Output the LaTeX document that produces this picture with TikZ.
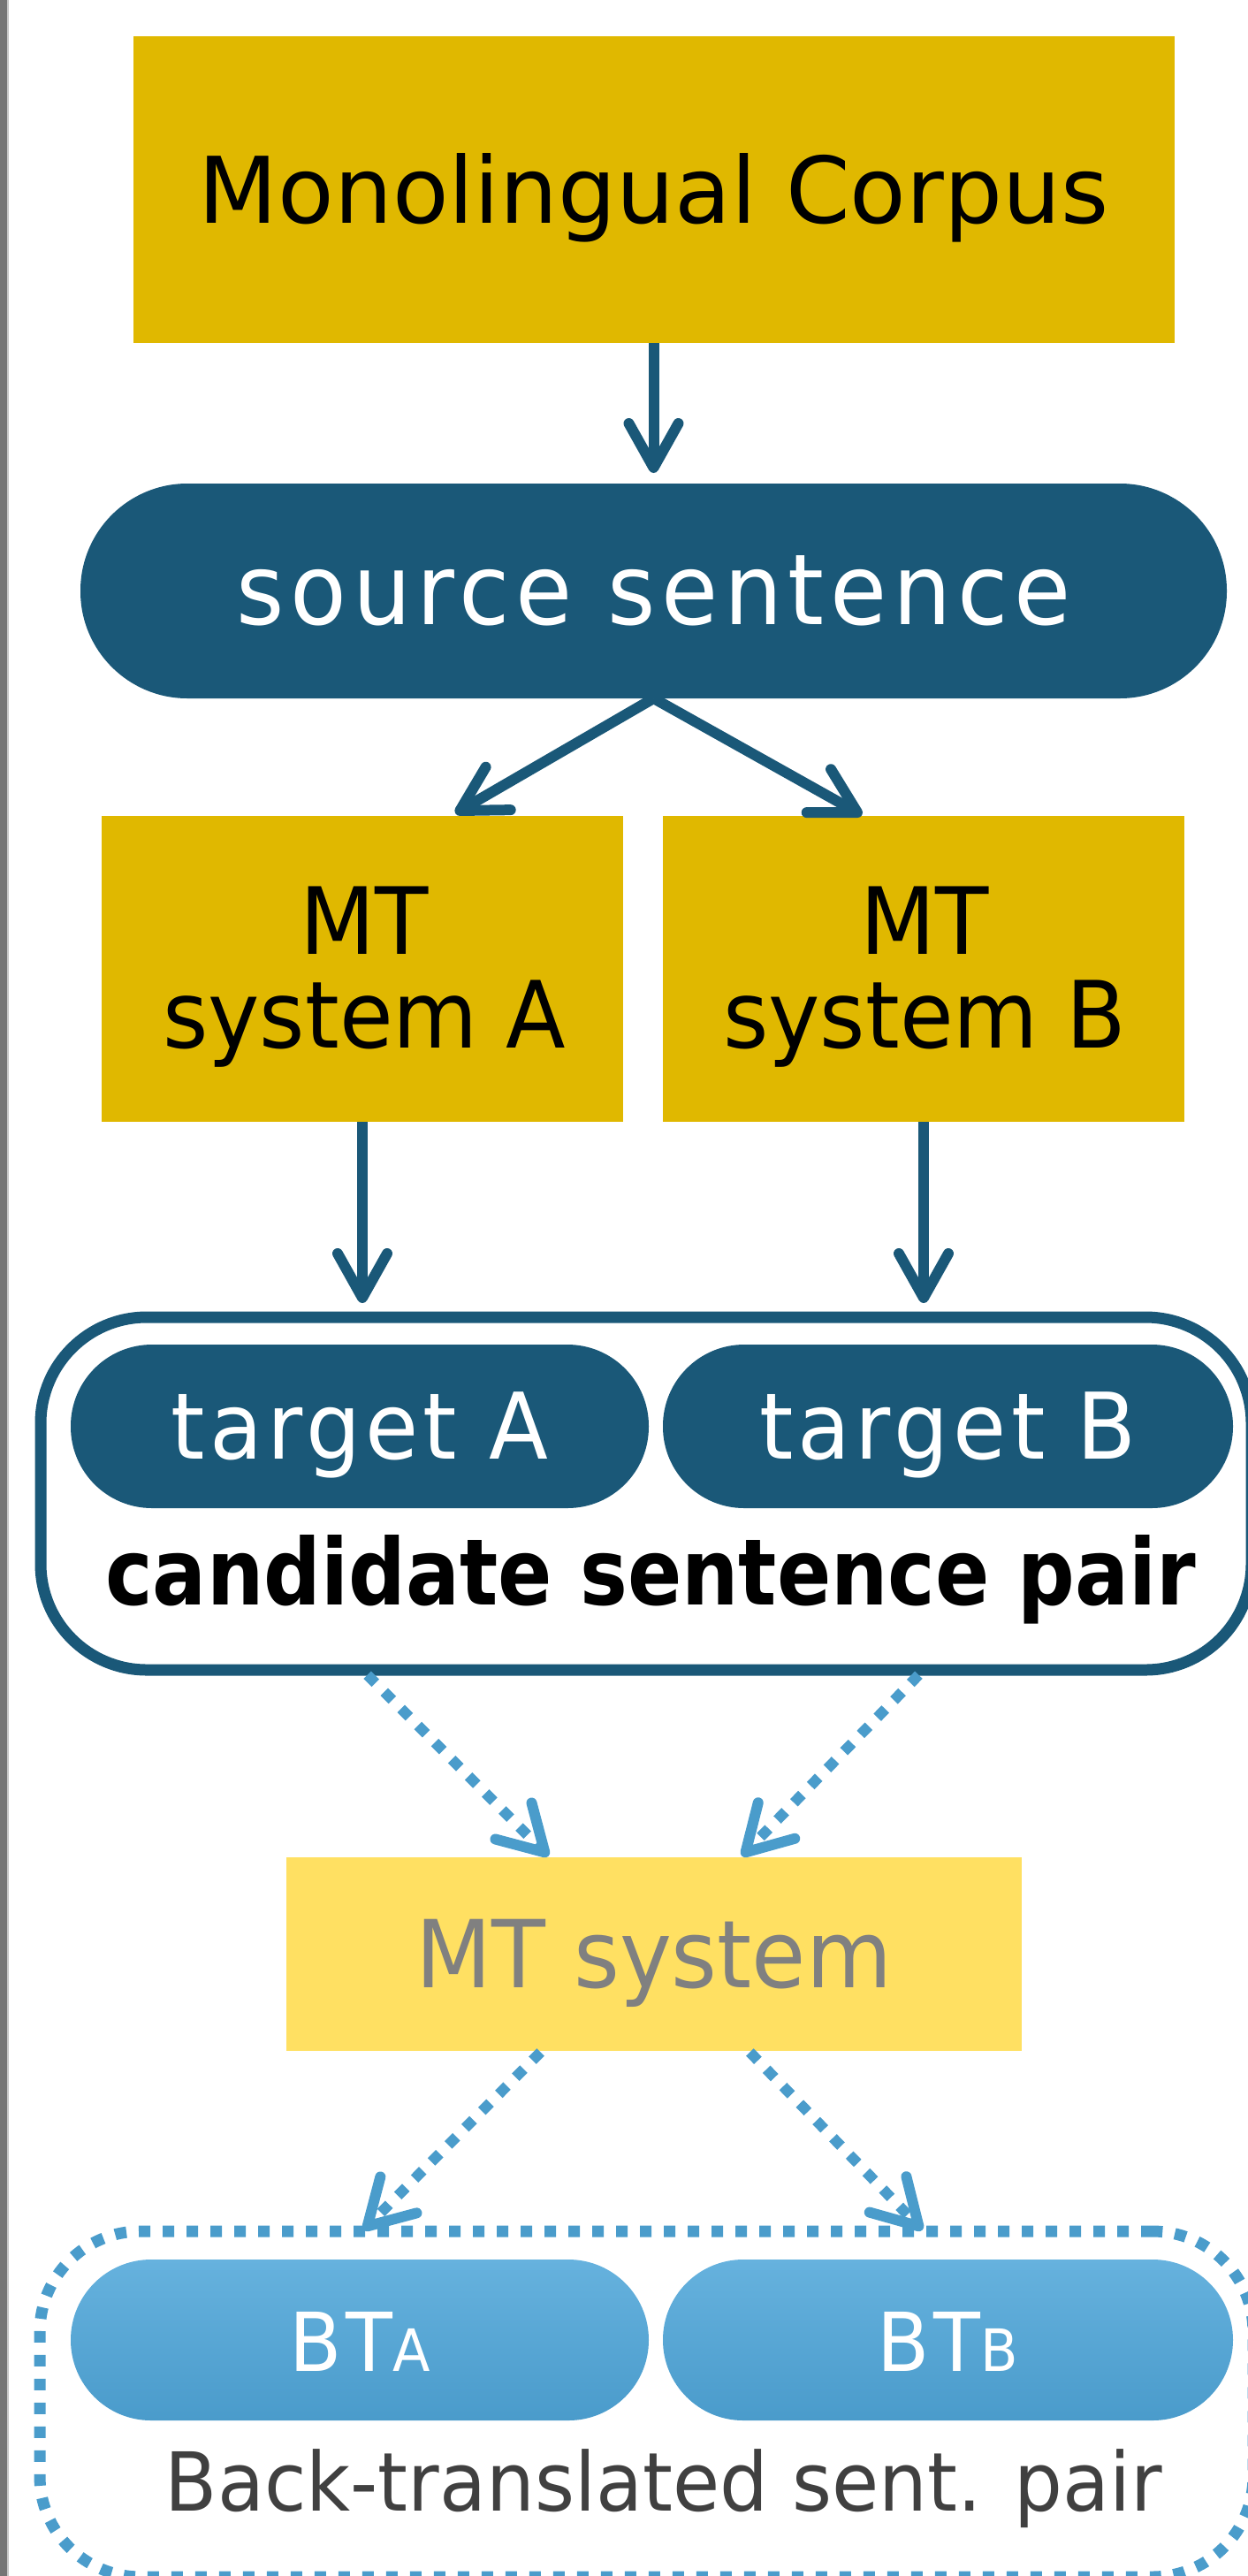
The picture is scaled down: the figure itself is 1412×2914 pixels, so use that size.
\documentclass[tikz,border=0pt]{standalone}
\usepackage{fontspec}
\usetikzlibrary{arrows.meta,calc}
\newfontfamily\fW{DejaVu Sans}
\newfontfamily\fN[FakeStretch=0.94]{DejaVu Sans}
\newfontfamily\fS[FakeStretch=0.94,LetterSpace=5]{DejaVu Sans}
\newfontfamily\fSS[FakeStretch=0.94,LetterSpace=6]{DejaVu Sans}
\newfontfamily\fB[FakeStretch=0.87]{DejaVu Sans Bold}
\definecolor{gold}{RGB}{224,184,0}
\definecolor{dkblue}{RGB}{26,88,120}
\definecolor{mtyellow}{RGB}{255,224,98}
\definecolor{mtgray}{RGB}{128,128,128}
\definecolor{ltblue}{RGB}{74,156,203}
\definecolor{bttop}{RGB}{102,178,222}
\definecolor{btbot}{RGB}{74,155,203}
\definecolor{txtgray}{RGB}{64,64,64}
\begin{document}
\begin{tikzpicture}[x=1pt,y=-1pt,
  every node/.style={inner sep=0pt, outer sep=0pt},
  goldbox/.style={fill=gold, text=black},
  pill/.style={fill=dkblue, text=white, text height=73pt, text depth=0pt,
    minimum height=185pt, rounded corners=92pt,
    font=\fS\fontsize{104pt}{110pt}\selectfont},
  btpill/.style={top color=bttop, bottom color=btbot, text=white, text height=70pt, text depth=0pt,
    minimum height=182pt, rounded corners=90.9pt,
    font=\fS\fontsize{92pt}{100pt}\selectfont},
  arr/.style={draw=dkblue, line width=12pt, -{Straight Barb[length=50pt,width=56pt,round]}},
  dotarr/.style={draw=ltblue, line width=12pt, dash pattern=on 13pt off 14pt,
    -{Straight Barb[length=50pt,width=58pt,round]}}
]
\useasboundingbox (0,0) rectangle (1412,2914);
\fill[color={rgb,255:red,118;green,118;blue,118}] (0,0) rectangle (8,2914);
\fill[color={rgb,255:red,200;green,200;blue,200}] (8,0) rectangle (10,2914);

% top part
\node[goldbox, minimum width=1178pt, minimum height=347pt, text height=75pt, text depth=0pt,
  font=\fW\fontsize{104pt}{110pt}\selectfont] (mono) at (739.5,214.5) {Monolingual Corpus};
\node[fill=dkblue, text=white, minimum width=1297pt, minimum height=243pt, rounded corners=121pt,
  text height=75pt, text depth=0pt, font=\fSS\fontsize{111pt}{115pt}\selectfont]
  (src) at (739.5,668.5) {source sentence};

\node[goldbox, minimum width=590pt, minimum height=346pt] (mta) at (410,1096) {};
\node[goldbox, minimum width=590pt, minimum height=346pt] (mtb) at (1045,1096) {};
\node[anchor=north, align=center, font=\fN\fontsize{105pt}{106pt}\selectfont] (mtaT)
  at (412,1002.5) {MT\\system A};
\node[anchor=north, align=center, font=\fN\fontsize{105pt}{106pt}\selectfont] (mtbT)
  at (1046,1002.5) {MT\\system B};

% candidate pair
\node[draw=dkblue, line width=13pt, fill=white, minimum width=1370pt, minimum height=399pt,
  rounded corners=120pt] (cand) at (731,1689.5) {};
\node[pill, minimum width=654pt] (tga) at (407,1613.5) {target A};
\node[pill, minimum width=645pt] (tgb) at (1072.5,1613.5) {target B};
\node[anchor=base, font=\fB\fontsize{104pt}{110pt}\selectfont] (candT) at (736,1815)
  {candidate sentence pair};

% MT system
\node[fill=mtyellow, text=mtgray, minimum width=832pt, minimum height=219pt,
  text height=75pt, text depth=0pt, font=\fN\fontsize{106pt}{110pt}\selectfont]
  (mts) at (740,2210.5) {MT system};

% back-translated pair
\node[draw=ltblue, line width=13pt, dash pattern=on 13pt off 14pt, minimum width=1373pt,
  minimum height=391pt, rounded corners=114pt] (dot) at (731.5,2719.5) {};
\node[btpill, minimum width=654pt] (bta) at (407,2647)
  {BT{\fontsize{66pt}{70pt}\selectfont A}};
\node[btpill, minimum width=645pt] (btb) at (1072.5,2647)
  {BT{\fontsize{66pt}{70pt}\selectfont B}};
\node[anchor=base, text=txtgray, font=\fN\fontsize{92pt}{100pt}\selectfont] (dotT)
  at (751,2840) {Back-translated sent. pair};

% connectors
\draw[arr, shorten >=12pt] (mono.south) -- (src.north);
\draw[arr, shorten >=6pt] (src.south) -- ($(mta.north)+(100,0)$);
\draw[arr, shorten >=2pt] (src.south) -- ($(mtb.north)+(-68,0)$);
\draw[arr, shorten >=16pt] (mta.south) -- (mta |- cand.north);
\draw[arr, shorten >=16pt] (mtb.south) -- (mtb |- cand.north);

\draw[dotarr, shorten <=8pt, shorten >=2pt] (mta |- cand.south) -- ($(mts.north)+(-118,0)$);
\draw[dotarr, shorten <=8pt, shorten >=2pt] (mtb |- cand.south) -- ($(mts.north)+(98,0)$);
\draw[dotarr, shorten <=2pt, shorten >=2pt] ($(mts.south)+(-127,0)$) -- (mta |- dot.north);
\draw[dotarr, shorten <=2pt, shorten >=2pt] ($(mts.south)+(107,0)$) -- (mtb |- dot.north);
\end{tikzpicture}
\end{document}
